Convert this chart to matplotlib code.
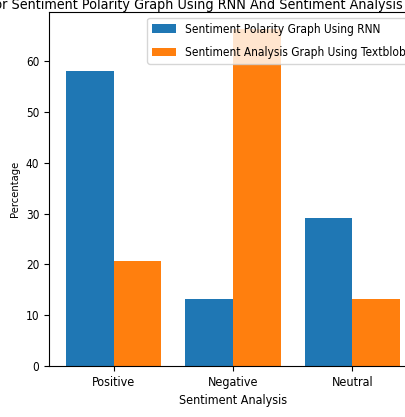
import matplotlib
matplotlib.use("Agg")
import matplotlib.pyplot as plt
import numpy as np

# categories and the two series (percent)
categories = ["Positive", "Negative", "Neutral"]
rnn_values = [58.1, 13.2, 29.2]
textblob_values = [20.6, 66.4, 13.1]
series_labels = ["Sentiment Polarity Graph Using RNN",
                 "Sentiment Analysis Graph Using Textblob"]
title = ("Bar Chart For Sentiment Polarity Graph Using RNN And "
         "Sentiment Analysis Graph Using Textblob")

plt.rcParams['font.family'] = ['DejaVu Sans']
plt.rcParams['font.stretch'] = 'condensed'
plt.rcParams['font.size'] = 9

fig = plt.figure(figsize=(4.06, 4.17), dpi=100)
# the axes run past the right edge like in the cropped reference
ax = fig.add_axes([49 / 406, 51 / 417, 368 / 406, 354 / 417])

x = np.arange(len(categories))
w = 0.4
ax.bar(x - w / 2, rnn_values, w, color="#1f77b4", label=series_labels[0])
ax.bar(x + w / 2, textblob_values, w, color="#ff7f0e", label=series_labels[1])

ax.set_xticks(x)
ax.set_xticklabels(categories, fontsize=9)
ax.set_yticks(range(0, 61, 10))
ax.tick_params(axis="y", labelsize=8.5)
ax.set_xlabel("Sentiment Analysis", fontsize=9)
ax.set_ylabel("Percentage", fontsize=8)
ax.set_title(title, fontsize=10.3, pad=2)
ax.legend(loc="upper right", fontsize=8.6, labelspacing=0.85)

fig.savefig("out.png", dpi=100)
